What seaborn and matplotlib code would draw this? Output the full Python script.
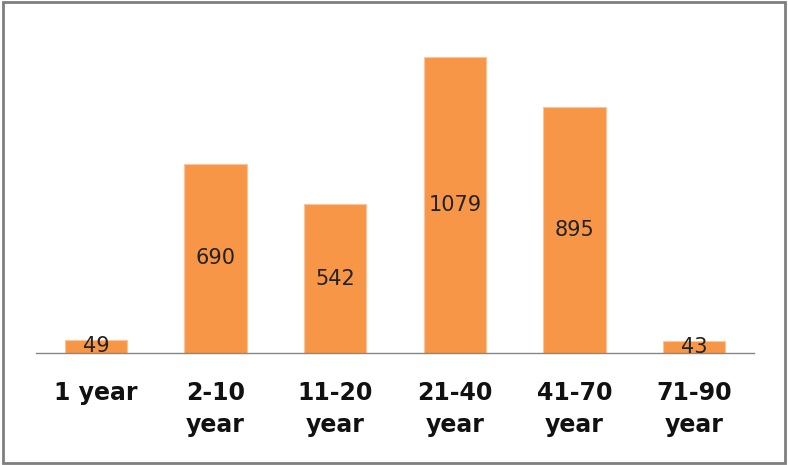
import pandas as pd
import seaborn as sns
import matplotlib.pyplot as plt
from matplotlib.patches import Rectangle

# Data
age_groups = ['1 year', '2-10\nyear', '11-20\nyear', '21-40\nyear', '41-70\nyear', '71-90\nyear']
counts = [49, 690, 542, 1079, 895, 43]

df = pd.DataFrame({'Age': age_groups, 'Count': counts})

sns.set_style("white")
plt.rcParams['font.family'] = ['DejaVu Sans']

fig = plt.figure(figsize=(7.88, 4.65), dpi=100)
ax = fig.add_axes([0.0457, 0.2409, 0.9112, 0.7376])

sns.barplot(data=df, x='Age', y='Count', color='#F79646', saturation=1,
            width=0.52, edgecolor='#FBC49A', linewidth=0.8, ax=ax)

# value labels centred in each bar
for bar, val in zip(ax.patches, counts):
    ax.text(bar.get_x() + bar.get_width() / 2, bar.get_height() / 2, str(val),
            ha='center', va='center', fontsize=15, color='#222222')

ax.set_xlim(-0.5, 5.5)
ax.set_ylim(0, 1250)
ax.set_xlabel('')
ax.set_ylabel('')
ax.set_yticks([])
for s in ['top', 'right', 'left']:
    ax.spines[s].set_visible(False)
ax.spines['bottom'].set_color('#868686')
ax.spines['bottom'].set_linewidth(1)
ax.tick_params(axis='x', length=0, pad=20)
for lbl in ax.get_xticklabels():
    lbl.set_fontsize(17)
    lbl.set_fontweight('bold')
    lbl.set_linespacing(1.45)
    lbl.set_color('#111111')

# outer frame of the chart area
fig.patches.append(Rectangle((0.004, 0.004), 0.992, 0.992, transform=fig.transFigure,
                             fill=False, edgecolor='#7F7F7F', linewidth=2))

fig.savefig('out.png', dpi=100)
